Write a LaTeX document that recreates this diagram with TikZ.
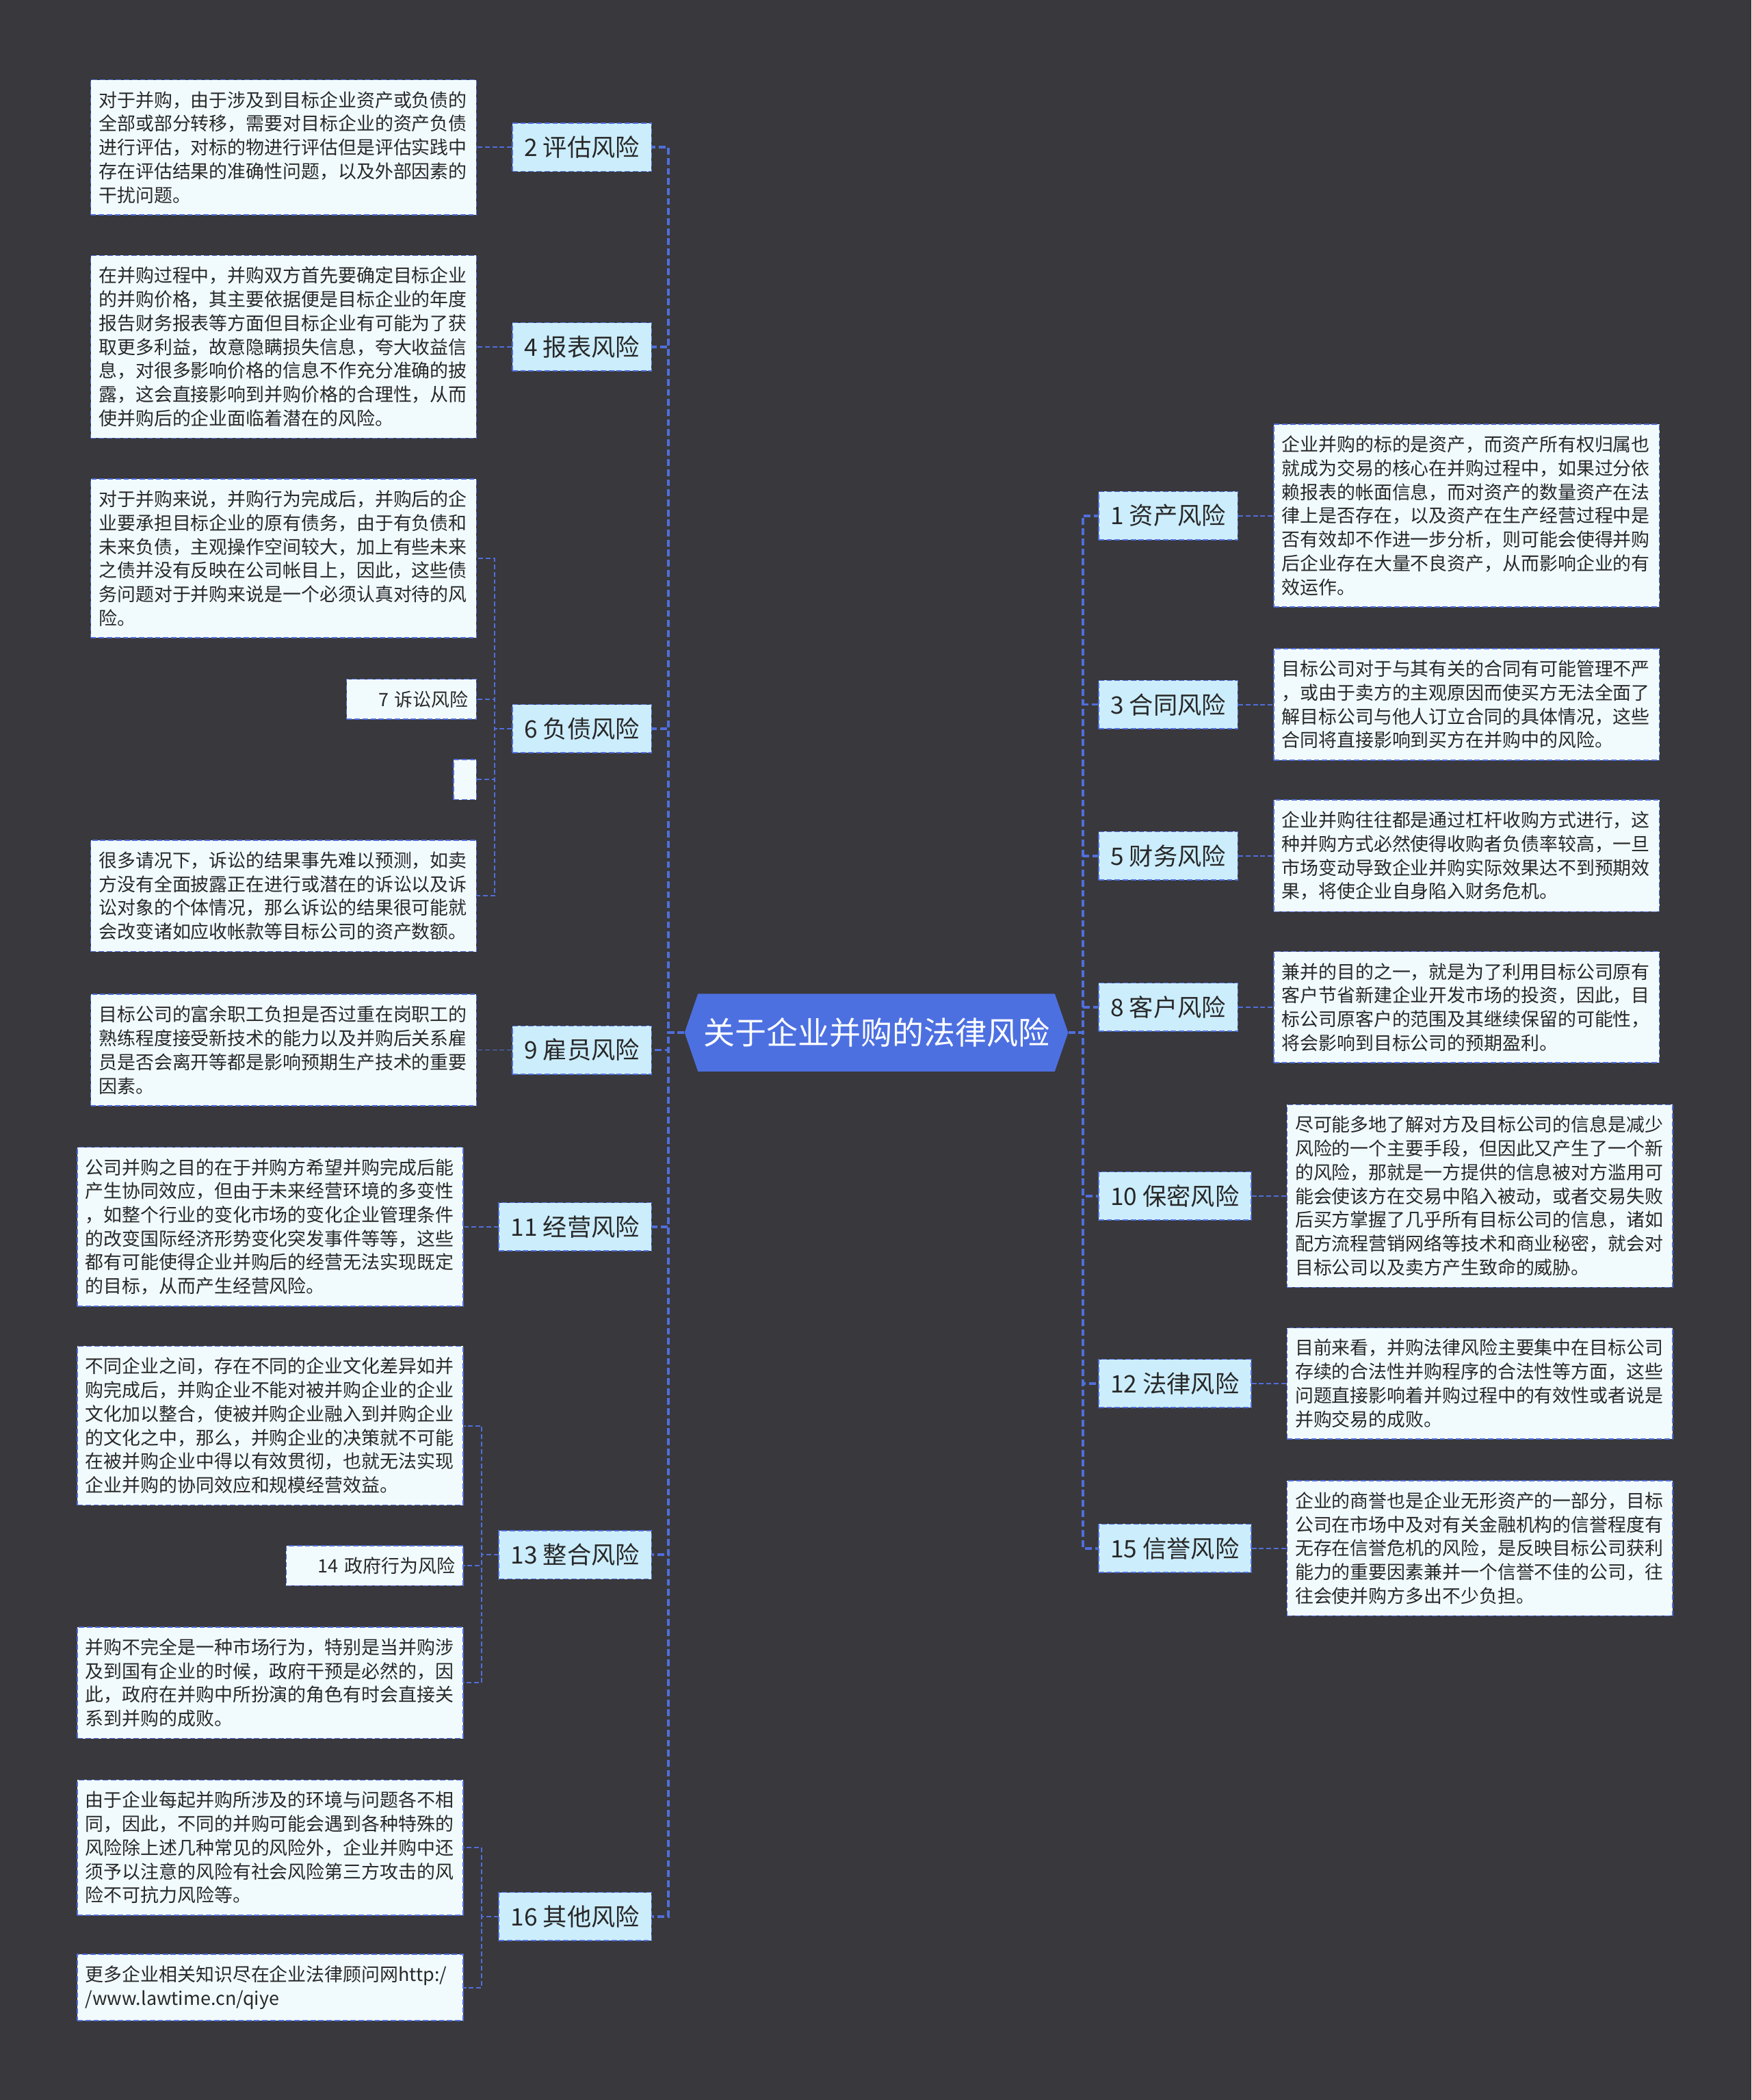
\documentclass[tikz,border=0pt]{standalone}
\usepackage{fontspec}
\usepackage{tikz}
\usetikzlibrary{shapes.symbols, positioning}
\newfontfamily\cjk{Noto Sans CJK SC}
\definecolor{boardgray}{RGB}{57, 56, 60}
\definecolor{linkblue}{RGB}{80, 110, 220}
\definecolor{topicblue}{RGB}{77, 112, 225}
\definecolor{riskfill}{RGB}{204, 237, 252}
\definecolor{notefill}{RGB}{241, 251, 254}
\definecolor{inkgray}{RGB}{40, 40, 40}

\begin{document}
\begin{tikzpicture}[x=1pt, y=-1pt]
  \tikzstyle{card} = [rectangle, draw=linkblue, line width=0.8pt, dash pattern=on 4pt off 2pt, fill=notefill, text=inkgray]
  \tikzstyle{note} = [card, text width=276pt, inner xsep=6pt, inner ysep=8.5pt, align=left, font=\cjk\fontsize{13.75pt}{17.75pt}\selectfont]
  \tikzstyle{leaf} = [note, align=right]
  \tikzstyle{risk} = [card, fill=riskfill, inner xsep=9pt, minimum height=36pt, font=\cjk\fontsize{18pt}{22pt}\selectfont]
  \tikzstyle{topic} = [signal, signal to=west and east, signal pointer angle=142, fill=topicblue, text=white, inner xsep=4pt, minimum height=58pt, font=\cjk\fontsize{23.5pt}{28pt}\selectfont]
  \tikzstyle{spine} = [draw=linkblue, line width=2pt, dash pattern=on 5pt off 2.5pt]
  \tikzstyle{link} = [draw=linkblue, line width=1pt, dash pattern=on 3.5pt off 2pt]

  \fill[boardgray] (0,0) rectangle (1308,1568);
  \useasboundingbox (0,0) rectangle (1308,1568);

  \node (topic) [topic] at (654.5,771) {关于企业并购的法律风险};

  \node (risk2) [risk, anchor=east] at (487,110) {2 评估风险};
  \node (risk4) [risk, anchor=east] at (487,259) {4 报表风险};
  \node (risk6) [risk, anchor=east] at (487,544) {6 负债风险};
  \node (risk9) [risk, anchor=east] at (487,784) {9 雇员风险};
  \node (risk11) [risk, anchor=east] at (487,916) {11 经营风险};
  \node (risk13) [risk, anchor=east] at (487,1161) {13 整合风险};
  \node (risk16) [risk, anchor=east] at (487,1431) {16 其他风险};

  \node (risk1) [risk, anchor=west] at (820,385) {1 资产风险};
  \node (risk3) [risk, anchor=west] at (820,526) {3 合同风险};
  \node (risk5) [risk, anchor=west] at (820,639) {5 财务风险};
  \node (risk8) [risk, anchor=west] at (820,752) {8 客户风险};
  \node (risk10) [risk, anchor=west] at (820,893) {10 保密风险};
  \node (risk12) [risk, anchor=west] at (820,1033) {12 法律风险};
  \node (risk15) [risk, anchor=west] at (820,1156) {15 信誉风险};

  \node (note2) [note, left=26pt of risk2] {对于并购，由于涉及到目标企业资产或负债的\\全部或部分转移，需要对目标企业的资产负债\\进行评估，对标的物进行评估但是评估实践中\\存在评估结果的准确性问题，以及外部因素的\\干扰问题。};
  \node (note4) [note, left=26pt of risk4] {在并购过程中，并购双方首先要确定目标企业\\的并购价格，其主要依据便是目标企业的年度\\报告财务报表等方面但目标企业有可能为了获\\取更多利益，故意隐瞒损失信息，夸大收益信\\息，对很多影响价格的信息不作充分准确的披\\露，这会直接影响到并购价格的合理性，从而\\使并购后的企业面临着潜在的风险。};
  \node (note6a) [note, left=26pt of risk6, yshift=127pt] {对于并购来说，并购行为完成后，并购后的企\\业要承担目标企业的原有债务，由于有负债和\\未来负债，主观操作空间较大，加上有些未来\\之债并没有反映在公司帐目上，因此，这些债\\务问题对于并购来说是一个必须认真对待的风\\险。};
  \node (leaf7) [leaf, text width=85pt, left=26pt of risk6, yshift=22pt] {7 诉讼风险};
  \node (blank6) [card, minimum width=17pt, minimum height=30pt, inner sep=0pt, left=26pt of risk6, yshift=-38pt] {};
  \node (note6b) [note, left=26pt of risk6, yshift=-125pt] {很多请况下，诉讼的结果事先难以预测，如卖\\方没有全面披露正在进行或潜在的诉讼以及诉\\讼对象的个体情况，那么诉讼的结果很可能就\\会改变诸如应收帐款等目标公司的资产数额。};
  \node (note9) [note, left=26pt of risk9] {目标公司的富余职工负担是否过重在岗职工的\\熟练程度接受新技术的能力以及并购后关系雇\\员是否会离开等都是影响预期生产技术的重要\\因素。};
  \node (note11) [note, left=26pt of risk11] {公司并购之目的在于并购方希望并购完成后能\\产生协同效应，但由于未来经营环境的多变性\\，如整个行业的变化市场的变化企业管理条件\\的改变国际经济形势变化突发事件等等，这些\\都有可能使得企业并购后的经营无法实现既定\\的目标，从而产生经营风险。};
  \node (note13a) [note, left=26pt of risk13, yshift=96.5pt] {不同企业之间，存在不同的企业文化差异如并\\购完成后，并购企业不能对被并购企业的企业\\文化加以整合，使被并购企业融入到并购企业\\的文化之中，那么，并购企业的决策就不可能\\在被并购企业中得以有效贯彻，也就无法实现\\企业并购的协同效应和规模经营效益。};
  \node (leaf14) [leaf, text width=120pt, left=26pt of risk13, yshift=-8pt] {14 政府行为风险};
  \node (note13b) [note, left=26pt of risk13, yshift=-95.5pt] {并购不完全是一种市场行为，特别是当并购涉\\及到国有企业的时候，政府干预是必然的，因\\此，政府在并购中所扮演的角色有时会直接关\\系到并购的成败。};
  \node (note16a) [note, left=26pt of risk16, yshift=51.5pt] {由于企业每起并购所涉及的环境与问题各不相\\同，因此，不同的并购可能会遇到各种特殊的\\风险除上述几种常见的风险外，企业并购中还\\须予以注意的风险有社会风险第三方攻击的风\\险不可抗力风险等。};
  \node (note16b) [note, left=26pt of risk16, yshift=-53pt] {更多企业相关知识尽在企业法律顾问网http:/\\/www.lawtime.cn/qiye};

  \node (note1) [note, right=26pt of risk1] {企业并购的标的是资产，而资产所有权归属也\\就成为交易的核心在并购过程中，如果过分依\\赖报表的帐面信息，而对资产的数量资产在法\\律上是否存在，以及资产在生产经营过程中是\\否有效却不作进一步分析，则可能会使得并购\\后企业存在大量不良资产，从而影响企业的有\\效运作。};
  \node (note3) [note, right=26pt of risk3] {目标公司对于与其有关的合同有可能管理不严\\，或由于卖方的主观原因而使买方无法全面了\\解目标公司与他人订立合同的具体情况，这些\\合同将直接影响到买方在并购中的风险。};
  \node (note5) [note, right=26pt of risk5] {企业并购往往都是通过杠杆收购方式进行，这\\种并购方式必然使得收购者负债率较高，一旦\\市场变动导致企业并购实际效果达不到预期效\\果，将使企业自身陷入财务危机。};
  \node (note8) [note, right=26pt of risk8] {兼并的目的之一，就是为了利用目标公司原有\\客户节省新建企业开发市场的投资，因此，目\\标公司原客户的范围及其继续保留的可能性，\\将会影响到目标公司的预期盈利。};
  \node (note10) [note, right=26pt of risk10] {尽可能多地了解对方及目标公司的信息是减少\\风险的一个主要手段，但因此又产生了一个新\\的风险，那就是一方提供的信息被对方滥用可\\能会使该方在交易中陷入被动，或者交易失败\\后买方掌握了几乎所有目标公司的信息，诸如\\配方流程营销网络等技术和商业秘密，就会对\\目标公司以及卖方产生致命的威胁。};
  \node (note12) [note, right=26pt of risk12] {目前来看，并购法律风险主要集中在目标公司\\存续的合法性并购程序的合法性等方面，这些\\问题直接影响着并购过程中的有效性或者说是\\并购交易的成败。};
  \node (note15) [note, right=26pt of risk15] {企业的商誉也是企业无形资产的一部分，目标\\公司在市场中及对有关金融机构的信誉程度有\\无存在信誉危机的风险，是反映目标公司获利\\能力的重要因素兼并一个信誉不佳的公司，往\\往会使并购方多出不少负担。};

  \draw [spine] (topic.west) -- ++(-12,0) |- (risk2.east);
  \draw [spine] (topic.west) -- ++(-12,0) |- (risk4.east);
  \draw [spine] (topic.west) -- ++(-12,0) |- (risk6.east);
  \draw [spine] (topic.west) -- ++(-12,0) |- (risk9.east);
  \draw [spine] (topic.west) -- ++(-12,0) |- (risk11.east);
  \draw [spine] (topic.west) -- ++(-12,0) |- (risk13.east);
  \draw [spine] (topic.west) -- ++(-12,0) |- (risk16.east);

  \draw [spine] (topic.east) -- ++(11,0) |- (risk1.west);
  \draw [spine] (topic.east) -- ++(11,0) |- (risk3.west);
  \draw [spine] (topic.east) -- ++(11,0) |- (risk5.west);
  \draw [spine] (topic.east) -- ++(11,0) |- (risk8.west);
  \draw [spine] (topic.east) -- ++(11,0) |- (risk10.west);
  \draw [spine] (topic.east) -- ++(11,0) |- (risk12.west);
  \draw [spine] (topic.east) -- ++(11,0) |- (risk15.west);

  \draw [link] (risk2.west) -- (note2.east);
  \draw [link] (risk4.west) -- (note4.east);
  \draw [link] (risk6.west) -- ++(-13,0) |- (note6a.east);
  \draw [link] (risk6.west) -- ++(-13,0) |- (leaf7.east);
  \draw [link] (risk6.west) -- ++(-13,0) |- (blank6.east);
  \draw [link] (risk6.west) -- ++(-13,0) |- (note6b.east);
  \draw [link] (risk9.west) -- (note9.east);
  \draw [link] (risk11.west) -- (note11.east);
  \draw [link] (risk13.west) -- ++(-12.5,0) |- (note13a.east);
  \draw [link] (risk13.west) -- ++(-12.5,0) |- (leaf14.east);
  \draw [link] (risk13.west) -- ++(-12.5,0) |- (note13b.east);
  \draw [link] (risk16.west) -- ++(-12.5,0) |- (note16a.east);
  \draw [link] (risk16.west) -- ++(-12.5,0) |- (note16b.east);

  \draw [link] (risk1.east) -- (note1.west);
  \draw [link] (risk3.east) -- (note3.west);
  \draw [link] (risk5.east) -- (note5.west);
  \draw [link] (risk8.east) -- (note8.west);
  \draw [link] (risk10.east) -- (note10.west);
  \draw [link] (risk12.east) -- (note12.west);
  \draw [link] (risk15.east) -- (note15.west);
\end{tikzpicture}
\end{document}
